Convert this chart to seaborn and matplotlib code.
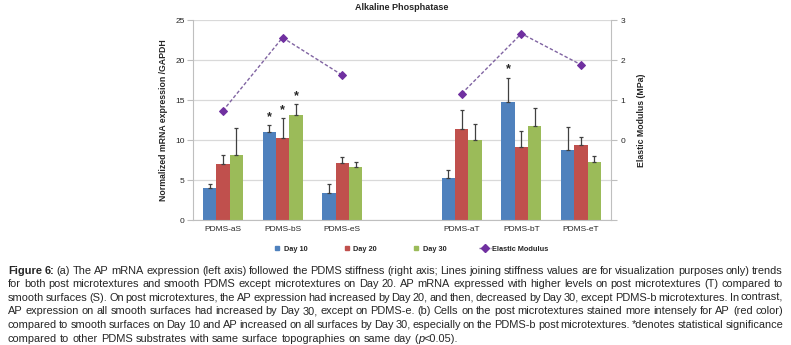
import re
import pandas as pd
import matplotlib.pyplot as plt
import seaborn as sns
from matplotlib import font_manager
from matplotlib.lines import Line2D

# chart data
categories = ['PDMS-aS', 'PDMS-bS', 'PDMS-eS', '', 'PDMS-aT', 'PDMS-bT', 'PDMS-eT']
samples = ['PDMS-aS', 'PDMS-bS', 'PDMS-eS', 'PDMS-aT', 'PDMS-bT', 'PDMS-eT']
surface = ['S', 'S', 'S', 'T', 'T', 'T']
days = ['Day 10', 'Day 20', 'Day 30']
day10 = [4.0, 11.0, 3.35, 5.2, 14.8, 8.7]
day20 = [7.0, 10.2, 7.1, 11.4, 9.1, 9.35]
day30 = [8.1, 13.1, 6.6, 10.0, 11.7, 7.2]
err10 = [0.55, 0.85, 1.2, 1.05, 3.0, 2.95]
err20 = [1.1, 2.5, 0.8, 2.3, 2.0, 1.05]
err30 = [3.35, 1.35, 0.7, 2.05, 2.35, 0.85]
significant = {'Day 10': ['PDMS-bS', 'PDMS-bT'], 'Day 20': ['PDMS-bS'], 'Day 30': ['PDMS-bS']}
modulus = [0.73, 2.56, 1.62, 1.16, 2.66, 1.88]

caption_lines = [
    "**Figure** **6:** (a) The AP mRNA expression (left axis) followed the PDMS stiffness (right axis; Lines joining stiffness values are for visualization purposes only) trends",
    "for both post microtextures and smooth PDMS except microtextures on Day 20. AP mRNA expressed with higher levels on post microtextures (T) compared to",
    "smooth surfaces (S). On post microtextures, the AP expression had increased by Day 20, and then, decreased by Day 30, except PDMS-b microtextures. In contrast,",
    "AP expression on all smooth surfaces had increased by Day 30, except on PDMS-e. (b) Cells on the post microtextures stained more intensely for AP (red color)",
    "compared to smooth surfaces on Day 10 and AP increased on all surfaces by Day 30, especially on the PDMS-b post microtextures. *denotes statistical significance",
    "compared to other PDMS substrates with same surface topographies on same day (_p_<0.05).",
]

colors = ['#4F81BD', '#C0504D', '#9BBB59']

sns.set_style('white')
plt.rcParams['font.family'] = ['Liberation Sans', 'DejaVu Sans']
installed = {f.name for f in font_manager.fontManager.ttflist}
cap_font = 'Liberation Sans Narrow' if 'Liberation Sans Narrow' in installed else 'Liberation Sans'

df = pd.DataFrame({
    'sample': samples * 3,
    'day': [d for d in days for _ in samples],
    'value': day10 + day20 + day30,
    'err': err10 + err20 + err30,
})

fig = plt.figure(figsize=(7.91, 3.45), dpi=100)
ax = fig.add_axes([0.244, 0.3623, 0.5284, 0.5797])

sns.barplot(data=df, x='sample', y='value', hue='day', order=categories,
            hue_order=days, palette=colors, saturation=1, width=0.67,
            errorbar=None, linewidth=0, ax=ax, legend=False)

# error bars (plus direction only) and significance stars
for day, cont in zip(days, ax.containers):
    sub = df[df['day'] == day].set_index('sample')
    for bar, name in zip(cont, samples):
        xc = bar.get_x() + bar.get_width() / 2
        h = bar.get_height()
        e = sub.loc[name, 'err']
        ax.errorbar(xc, h, yerr=[[0], [e]], color='#404040', lw=0.9,
                    capsize=1.6, capthick=0.9)
        if name in significant[day]:
            ax.text(xc, h + e + 1.0, '*', ha='center', va='center',
                    fontsize=9, fontweight='bold')

ax.set_ylim(0, 25)
ax.set_yticks(range(0, 26, 5))
ax.set_xlim(-0.5, len(categories) - 0.5)
ax.yaxis.grid(True, color='#D9D9D9', lw=0.9)
ax.set_axisbelow(True)
for s in ['top', 'right']:
    ax.spines[s].set_visible(False)
for s in ['left', 'bottom']:
    ax.spines[s].set_color('#BFBFBF')
    ax.spines[s].set_linewidth(0.8)
ax.tick_params(axis='y', length=4, color='#BFBFBF', labelsize=6, pad=2)
ax.tick_params(axis='x', length=0, labelsize=6, pad=4)
ax.set_xlabel('')
ax.set_ylabel('Normalized mRNA expression /GAPDH', fontsize=6.3,
              fontweight='bold', labelpad=5)
ax.set_title('Alkaline Phosphatase', fontsize=6.5, fontweight='bold', pad=7)

# elastic modulus on the right axis
ax2 = ax.twinx()
mod_df = pd.DataFrame({'pos': [categories.index(s) for s in samples],
                       'modulus': modulus, 'surface': surface})
sns.lineplot(data=mod_df, x='pos', y='modulus', units='surface',
             estimator=None, color='#8064A2', lw=1.0, ls=(0, (2.5, 1.5)),
             marker='D', markersize=4.5, markerfacecolor='#7030A0',
             markeredgecolor='#7030A0', ax=ax2)
ax2.set_ylim(-2, 3)
ax2.set_yticks(range(-2, 4))
ax2.set_yticklabels(['', '', '0', '1', '2', '3'])
ax2.set_xlim(-0.5, len(categories) - 0.5)
for s in ['top', 'left', 'bottom']:
    ax2.spines[s].set_visible(False)
ax2.spines['right'].set_color('#BFBFBF')
ax2.spines['right'].set_linewidth(0.8)
ax2.tick_params(axis='y', length=4, color='#BFBFBF', labelsize=6, pad=3)
ax2.set_ylabel('Elastic Modulus (MPa)', fontsize=6.3, fontweight='bold',
               labelpad=8)

handles = [Line2D([], [], ls='none', marker='s', ms=3.5, color=c) for c in colors]
handles.append(Line2D([], [], color='#8064A2', lw=1.0, ls=(0, (2.5, 1.5)),
                      marker='D', ms=4.5, markerfacecolor='#7030A0',
                      markeredgecolor='#7030A0'))
leg = fig.legend(handles, days + ['Elastic Modulus'], loc='center',
                 bbox_to_anchor=(0.518, 0.278), ncol=4, frameon=False,
                 handlelength=1.6, handletextpad=0.1, columnspacing=4.5,
                 prop={'size': 5.3, 'weight': 'bold'})

# caption, justified like the journal layout
renderer = fig.canvas.get_renderer()
cap_size = 7.9
left_px, right_px = 8, 783
W, H = fig.get_size_inches() * fig.dpi


def make_runs(word):
    runs = []
    for part in re.split(r'(\*\*.+?\*\*|_.+?_)', word):
        if not part:
            continue
        if part.startswith('**') and part.endswith('**') and len(part) > 4:
            runs.append((part[2:-2], 'normal', 'bold'))
        elif part.startswith('_') and part.endswith('_') and len(part) > 2:
            runs.append((part[1:-1], 'italic', 'normal'))
        else:
            runs.append((part, 'normal', 'normal'))
    return runs


def width_of(t):
    return t.get_window_extent(renderer).width


probe1 = fig.text(0, 0, 'x x', fontsize=cap_size, family=cap_font)
probe2 = fig.text(0, 0, 'xx', fontsize=cap_size, family=cap_font)
space_px = width_of(probe1) - width_of(probe2)
probe1.remove()
probe2.remove()

y0, dy = 270.5, 13.6
for i, line in enumerate(caption_lines):
    y = 1 - (y0 + i * dy) / H
    words = []
    for w in line.split(' '):
        pieces = [fig.text(0, y, txt, fontsize=cap_size, family=cap_font,
                           style=st, weight=wt, va='center')
                  for txt, st, wt in make_runs(w)]
        words.append(pieces)
    wwidths = [sum(width_of(p) for p in pcs) for pcs in words]
    last = i == len(caption_lines) - 1
    if last:
        gap = space_px
    else:
        gap = (right_px - left_px - sum(wwidths)) / (len(words) - 1)
    x = left_px
    for pcs, ww in zip(words, wwidths):
        xx = x
        for p in pcs:
            p.set_x(xx / W)
            xx += width_of(p)
        x += ww + gap

fig.savefig('out.png', dpi=100)
